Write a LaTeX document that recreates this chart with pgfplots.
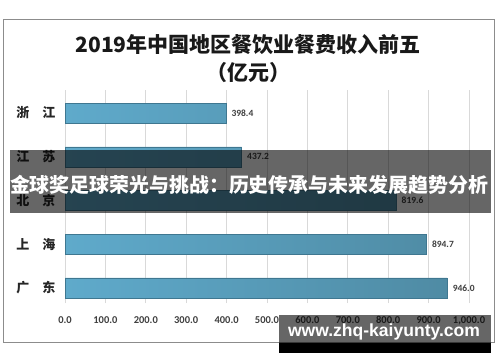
\documentclass[border=0pt]{standalone}
\usepackage{pgfplots}
\pgfplotsset{compat=1.18}
\usepackage{fontspec}
\setmainfont{Carlito}
\newfontfamily\cjk{Noto Sans CJK SC}
\newfontfamily\lib{Liberation Sans}
\definecolor{barL}{HTML}{5FAACB}
\definecolor{barR}{HTML}{4F8BA4}
\definecolor{barE}{HTML}{3F7790}
\definecolor{gridc}{HTML}{D9D9D9}
\definecolor{tickc}{HTML}{404040}
\begin{document}
\begin{tikzpicture}
\path[use as bounding box] (0pt,0pt) rectangle (500pt,362pt);
\fill[white] (0pt,0pt) rectangle (500pt,362pt);
\draw[color=black!45,line width=0.8pt] (3pt,20pt) rectangle (494pt,343pt);
\node[font=\cjk\bfseries\fontsize{21}{24}\selectfont,text=black!90] at (248pt,317pt) {2019年中国地区餐饮业餐费收入前五};
\node[font=\cjk\bfseries\fontsize{21}{24}\selectfont,text=black!90] at (248pt,289pt) {（亿元）};
\begin{axis}[
  at={(65pt,59pt)}, anchor=south west,
  scale only axis, width=404pt, height=213pt,
  xbar, bar width=20pt,
  xmin=0, xmax=1000, ymin=-0.343, ymax=4.526,
  xtick={0,100,...,1000},
  ytick={0,1,2,3,4},
  yticklabels={广\hspace{1em}东,上\hspace{1em}海,北\hspace{1em}京,江\hspace{1em}苏,浙\hspace{1em}江},
  axis line style={draw=none},
  major tick length=0pt,
  xmajorgrids, grid style={gridc, line width=0.8pt},
  xticklabel style={font=\bfseries\fontsize{10.5}{12}\selectfont, text=tickc, yshift=-10pt},
  /pgf/number format/assume math mode=true,
  xticklabel={\pgfmathprintnumber[fixed,fixed zerofill,precision=1]{\tick}},
  yticklabel style={font=\cjk\bfseries\fontsize{13}{13}\selectfont, text=black!85, xshift=-6pt},
  nodes near coords={\pgfmathprintnumber[fixed,fixed zerofill,precision=1]{\pgfplotspointmeta}},
  nodes near coords style={font=\bfseries\fontsize{9.5}{10}\selectfont, text=tickc, xshift=2pt},
  clip=false,
]
\addplot[draw=barE, line width=0.5pt, left color=barL, right color=barR] coordinates {
  (946.0,0) (894.7,1) (819.6,2) (437.2,3) (398.4,4)
};
\end{axis}
% overlay banner
\fill[black, opacity=0.6] (10pt,149pt) rectangle (491pt,212pt);
\node[text=white] at (249pt,177pt) {\resizebox{478pt}{!}{\cjk\bfseries 金球奖足球荣光与挑战：历史传承与未来发展趋势分析}};
% bottom watermark
\fill[black, opacity=0.6] (279pt,19pt) rectangle (491pt,47pt);
\fill[black] (279pt,9pt) rectangle (491pt,19pt);
\node[text=white] at (384pt,30pt) {\resizebox{192pt}{!}{\lib\bfseries www.zhq-kaiyunty.com}};
\end{tikzpicture}
\end{document}
